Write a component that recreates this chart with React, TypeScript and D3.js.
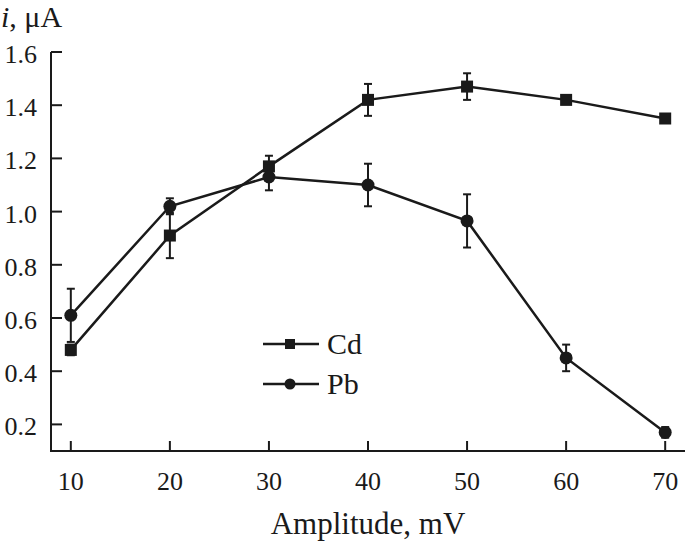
import { useEffect, useRef } from 'react';
import * as d3 from 'd3';

const amplitudes = [10, 20, 30, 40, 50, 60, 70];
const cdValues = [0.48, 0.91, 1.17, 1.42, 1.47, 1.42, 1.35];
const cdErrors = [0.02, 0.085, 0.04, 0.06, 0.05, 0.015, 0.015];
const pbValues = [0.61, 1.02, 1.13, 1.1, 0.965, 0.45, 0.17];
const pbErrors = [0.1, 0.03, 0.05, 0.08, 0.1, 0.05, 0.02];
const xTicks = [10, 20, 30, 40, 50, 60, 70];
const yTicks = [0.2, 0.4, 0.6, 0.8, 1.0, 1.2, 1.4, 1.6];

const W = 685;
const H = 543;
const FONT = '"Liberation Serif", "Times New Roman", serif';

export default function App() {
  const svgRef = useRef<SVGSVGElement>(null);

  useEffect(() => {
    if (!svgRef.current) return;
    const svg = d3.select(svgRef.current);
    svg.selectAll('*').remove();

    const x = d3.scaleLinear().domain([8, 72]).range([51, 685]);
    const y = d3.scaleLinear().domain([0.1, 1.6]).range([451, 52]);
    const ink = '#1a1a1a';

    const g = svg.append('g');

    // axes
    g.append('line')
      .attr('x1', 51).attr('x2', 51)
      .attr('y1', y(1.6)).attr('y2', y(0.1))
      .attr('stroke', ink).attr('stroke-width', 2);
    g.append('line')
      .attr('x1', 50).attr('x2', 685)
      .attr('y1', y(0.1)).attr('y2', y(0.1))
      .attr('stroke', ink).attr('stroke-width', 2);

    yTicks.forEach((t) => {
      g.append('line')
        .attr('x1', 51).attr('x2', 62)
        .attr('y1', y(t)).attr('y2', y(t))
        .attr('stroke', ink).attr('stroke-width', 2);
      g.append('text')
        .attr('x', 37).attr('y', y(t) + 11)
        .attr('text-anchor', 'end')
        .attr('font-family', FONT).attr('font-size', 26)
        .attr('fill', ink)
        .text(t.toFixed(1));
    });

    xTicks.forEach((t) => {
      g.append('line')
        .attr('x1', x(t)).attr('x2', x(t))
        .attr('y1', 451).attr('y2', 441)
        .attr('stroke', ink).attr('stroke-width', 2);
      g.append('text')
        .attr('x', x(t)).attr('y', 490)
        .attr('text-anchor', 'middle')
        .attr('font-family', FONT).attr('font-size', 26)
        .attr('fill', ink)
        .text(t);
    });

    const yl = g.append('text')
      .attr('x', 1).attr('y', 27)
      .attr('font-family', FONT).attr('font-size', 30)
      .attr('fill', ink);
    yl.append('tspan').attr('font-style', 'italic').text('i');
    yl.append('tspan').text(', μA');

    g.append('text')
      .attr('x', 368).attr('y', 534)
      .attr('text-anchor', 'middle')
      .attr('font-family', FONT).attr('font-size', 31)
      .attr('fill', ink)
      .text('Amplitude, mV');

    const line = d3.line<number>()
      .x((_, i) => x(amplitudes[i]))
      .y((d) => y(d));

    const drawSeries = (vals: number[], errs: number[], shape: 'square' | 'circle') => {
      g.append('path')
        .attr('d', line(vals) as string)
        .attr('fill', 'none')
        .attr('stroke', ink).attr('stroke-width', 2.5);
      vals.forEach((v, i) => {
        const cx = x(amplitudes[i]);
        const top = y(v + errs[i]);
        const bot = y(v - errs[i]);
        g.append('line')
          .attr('x1', cx).attr('x2', cx).attr('y1', top).attr('y2', bot)
          .attr('stroke', ink).attr('stroke-width', 2);
        [top, bot].forEach((yy) => {
          g.append('line')
            .attr('x1', cx - 4).attr('x2', cx + 4).attr('y1', yy).attr('y2', yy)
            .attr('stroke', ink).attr('stroke-width', 2);
        });
        if (shape === 'square') {
          g.append('rect')
            .attr('x', cx - 6).attr('y', y(v) - 6)
            .attr('width', 12).attr('height', 12)
            .attr('fill', ink);
        } else {
          g.append('circle')
            .attr('cx', cx).attr('cy', y(v)).attr('r', 6.5)
            .attr('fill', ink);
        }
      });
    };

    drawSeries(cdValues, cdErrors, 'square');
    drawSeries(pbValues, pbErrors, 'circle');

    // legend
    const legend = [
      { label: 'Cd', shape: 'square', ly: 344 },
      { label: 'Pb', shape: 'circle', ly: 384 },
    ];
    legend.forEach((l) => {
      g.append('line')
        .attr('x1', 263).attr('x2', 319).attr('y1', l.ly).attr('y2', l.ly)
        .attr('stroke', ink).attr('stroke-width', 2.5);
      if (l.shape === 'square') {
        g.append('rect')
          .attr('x', 285).attr('y', l.ly - 5).attr('width', 10).attr('height', 10)
          .attr('fill', ink);
      } else {
        g.append('circle')
          .attr('cx', 290).attr('cy', l.ly).attr('r', 5.5)
          .attr('fill', ink);
      }
      g.append('text')
        .attr('x', 327).attr('y', l.ly + 10)
        .attr('font-family', FONT).attr('font-size', 30)
        .attr('fill', ink)
        .text(l.label);
    });
  }, []);

  return (
    <svg
      ref={svgRef}
      width={W}
      height={H}
      style={{ position: 'absolute', left: 0, top: 0, background: '#fff' }}
    />
  );
}
